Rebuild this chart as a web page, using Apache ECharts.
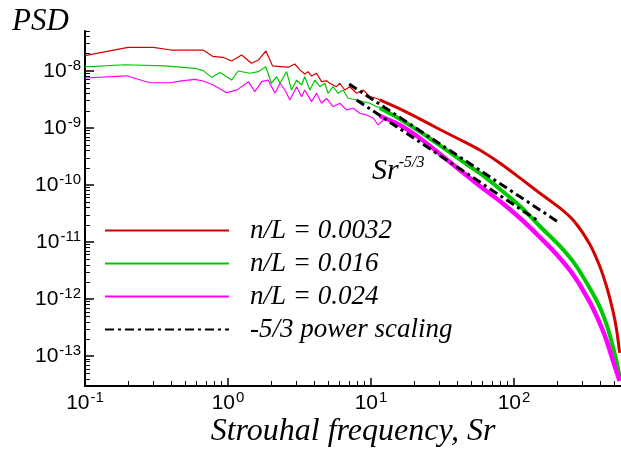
<!DOCTYPE html>
<html>
<head>
<meta charset="utf-8">
<script src="https://cdn.jsdelivr.net/npm/echarts@6/dist/echarts.min.js"></script>
<style>
html,body{margin:0;padding:0;background:#fff;}
#chart{width:621px;height:451px;}
</style>
</head>
<body>
<div id="chart"></div>
<script>
// ---- Data (Strouhal frequency Sr, PSD) ----
const seriesNames = ['n/L = 0.0032', 'n/L = 0.016', 'n/L = 0.024', '-5/3 power scaling'];

// n/L = 0.0032 (red) - low/mid frequency, thin trace
const redLowSr  = [0.1,0.2,0.3,0.4,0.5,0.6,0.67,0.78,0.92,1.06,1.245,1.46,1.63,1.84,2.05,2.43,2.64,2.93,3.18,3.44,3.63,3.84,4.16,4.51,4.89,5.15,5.74,6.05,6.56,7.11,7.92,8.81,9.81,10.9,12.2,13.2];
const redLowPsd = [1.85e-8,2.59e-8,2.59e-8,2.32e-8,2.32e-8,2.32e-8,2.32e-8,1.8e-8,1.73e-8,1.49e-8,1.9e-8,1.36e-8,1.55e-8,2.23e-8,1.22e-8,1.18e-8,1.16e-8,1.32e-8,1.04e-8,8.8e-9,9.7e-9,8.13e-9,9.08e-9,6.47e-9,6.7e-9,6.07e-9,5.28e-9,6.07e-9,4.62e-9,5.28e-9,4.05e-9,4.62e-9,3.53e-9,3.31e-9,2.89e-9,2.71e-9];

// n/L = 0.016 (green)
const greenLowSr  = [0.1,0.19,0.36,0.59,0.67,0.77,0.88,1.06,1.18,1.42,1.63,1.84,2.01,2.19,2.31,2.57,2.78,3.02,3.27,3.44,3.74,4.05,4.39,4.75,5.01,5.43,5.89,6.38,6.92,7.92,8.81,9.81,10.9,12.2];
const greenLowPsd = [1.18e-8,1.28e-8,1.22e-8,1.11e-8,1.01e-8,7.7e-9,9.4e-9,6.9e-9,9.95e-9,9.08e-9,9.7e-9,1.18e-8,6.07e-9,7.91e-9,6.07e-9,9.7e-9,4.62e-9,6.9e-9,5.66e-9,7.91e-9,4.62e-9,6.9e-9,5.28e-9,6.07e-9,4.05e-9,5.28e-9,4.05e-9,4.62e-9,3.31e-9,3.09e-9,2.89e-9,2.71e-9,2.36e-9,2.21e-9];

// n/L = 0.024 (magenta)
const magLowSr  = [0.1,0.195,0.284,0.392,0.472,0.587,0.671,0.79,0.977,1.15,1.39,1.54,1.72,1.91,2.13,2.31,2.5,2.71,3.02,3.27,3.44,3.84,4.16,4.51,4.89,5.43,6.05,6.74,7.5,8.35,9.31,10.4,11.2,12.2];
const magLowPsd = [7.5e-9,8.2e-9,6.2e-9,6.2e-9,6.7e-9,7.1e-9,6.65e-9,5.66e-9,4.15e-9,4.6e-9,6.47e-9,4.32e-9,6.47e-9,6.9e-9,4.05e-9,6.07e-9,4.62e-9,3.09e-9,5.28e-9,3.53e-9,4.62e-9,2.89e-9,4.05e-9,2.71e-9,3.31e-9,2.36e-9,2.71e-9,2.07e-9,2.21e-9,1.81e-9,1.69e-9,1.48e-9,1.13e-9,1.38e-9];

// high-frequency dense bands (centre of the band)
const bandSr       = [11.5,15.9,21.9,30.3,41.7,57.6,79.5,110,151,209,266,338,397,445,490,522,548];
const redHighPsd   = [3.09e-9,2.15e-9,1.44e-9,9.4e-10,6.28e-10,4.11e-10,2.43e-10,1.33e-10,7.25e-11,3.96e-11,2.25e-11,9.26e-12,3.81e-12,1.63e-12,6.46e-13,2.88e-13,1.14e-13];
const greenHighPsd = [2.24e-9,1.44e-9,8.67e-10,4.93e-10,2.8e-10,1.61e-10,8.53e-11,4.29e-11,1.91e-11,8.55e-12,4.13e-12,1.57e-12,7.38e-13,3.52e-13,1.51e-13,7.93e-14,4.33e-14];
const magHighPsd   = [1.62e-9,1.13e-9,6.67e-10,3.5e-10,1.83e-10,9.6e-11,5.25e-11,2.64e-11,1.23e-11,5.27e-12,2.45e-12,8.92e-13,3.82e-13,1.85e-13,8.6e-14,5.3e-14,3.68e-14];

// -5/3 power-law reference lines (end points)
const pow1Sr  = [7.03, 202];
const pow1Psd = [5.89e-9, 2.28e-11];
const pow2Sr  = [7.93, 144];
const pow2Psd = [3.09e-9, 2.44e-11];

// Axis ticks
const xMajorTicks = [0.1, 1, 10, 100];
const yMajorTicks = [1e-13, 1e-12, 1e-11, 1e-10, 1e-9, 1e-8];
const xMin = 0.1, xMax = 560;
const yMin = 3e-14, yMax = 5e-8;

function minorTicks(lo, hi, dec0, dec1) {
  const out = [];
  for (let e = dec0; e <= dec1; e++) {
    for (let m = 2; m <= 9; m++) {
      const v = parseFloat((m * Math.pow(10, e)).toPrecision(6));
      if (v >= lo * 0.999 && v <= hi * 1.001) out.push(v);
    }
  }
  return out;
}
const xMinorTicks = minorTicks(xMin, xMax, -1, 2);
const yMinorTicks = minorTicks(yMin, yMax, -14, -8);

const zip = (a, b) => a.map((v, i) => [v, b[i]]);

const RED = '#d40000', GREEN = '#00c800', MAG = '#ff00ff';

const expLabel = v => '{b|10}{s|' + Math.round(Math.log10(v)) + '}';
const richLabel = {
  b: { fontSize: 21, fontFamily: 'Liberation Sans', color: '#000', lineHeight: 26 },
  s: { fontSize: 15, fontFamily: 'Liberation Sans', color: '#000', verticalAlign: 'top', lineHeight: 15, padding: [0, 0, 0, 1] }
};

const chart = echarts.init(document.getElementById('chart'), null, { renderer: 'canvas' });

function lineSeries(name, data, color, width, extra) {
  return Object.assign({
    name: name, type: 'line', data: data, showSymbol: false, symbol: 'none',
    xAxisIndex: 0, yAxisIndex: 0,
    lineStyle: { color: color, width: width }, itemStyle: { color: color },
    animation: false, silent: true
  }, extra || {});
}

chart.setOption({
  animation: false,
  backgroundColor: '#fff',
  grid: { left: 85, right: 0, top: 31, bottom: 65, outerBoundsMode: 'none', containLabel: false },
  xAxis: [
    {
      type: 'log', logBase: 10, min: xMin, max: xMax,
      axisLine: { show: true, onZero: false, lineStyle: { color: '#000', width: 2 } },
      axisTick: { show: true, inside: true, length: 8, customValues: xMajorTicks, lineStyle: { color: '#000', width: 1.5 } },
      axisLabel: { show: true, customValues: xMajorTicks, margin: 4, formatter: expLabel, rich: richLabel },
      splitLine: { show: false },
      name: 'Strouhal frequency, Sr', nameLocation: 'middle', nameGap: 30, nameMoveOverlap: false,
      nameTextStyle: { fontFamily: 'Liberation Serif', fontStyle: 'italic', fontSize: 32, color: '#000' }
    },
    {
      type: 'log', logBase: 10, min: xMin, max: xMax, position: 'bottom',
      axisLine: { show: false },
      axisTick: { show: true, inside: true, length: 5, customValues: xMinorTicks, lineStyle: { color: '#000', width: 1 } },
      axisLabel: { show: false },
      splitLine: { show: false }
    }
  ],
  yAxis: [
    {
      type: 'log', logBase: 10, min: yMin, max: yMax,
      axisLine: { show: true, onZero: false, lineStyle: { color: '#000', width: 2 } },
      axisTick: { show: true, inside: true, length: 9, customValues: yMajorTicks, lineStyle: { color: '#000', width: 1.5 } },
      axisLabel: { show: true, customValues: yMajorTicks, margin: 4, formatter: expLabel, rich: richLabel },
      splitLine: { show: false }
    },
    {
      type: 'log', logBase: 10, min: yMin, max: yMax, position: 'left',
      axisLine: { show: false },
      axisTick: { show: true, inside: true, length: 5, customValues: yMinorTicks, lineStyle: { color: '#000', width: 1 } },
      axisLabel: { show: false },
      splitLine: { show: false }
    }
  ],
  legend: {
    show: true, orient: 'vertical', left: 104, top: 217, padding: 0,
    itemWidth: 124, itemHeight: 20, itemGap: 6,
    data: seriesNames,
    itemStyle: { opacity: 0 },
    textStyle: { fontFamily: 'Liberation Serif', fontStyle: 'italic', fontSize: 27, color: '#000', padding: [0, 0, 0, 16] },
    selectedMode: false
  },
  graphic: [
    { type: 'text', left: 12, top: 6, silent: true,
      style: { text: 'PSD', fontFamily: 'Liberation Serif', fontStyle: 'italic', fontSize: 31, fill: '#000' } },
    { type: 'text', left: 372, top: 155, silent: true,
      style: { text: '{m|Sr}{e|-5/3}', rich: {
        m: { fontFamily: 'Liberation Serif', fontStyle: 'italic', fontSize: 30, fill: '#000', lineHeight: 32 },
        e: { fontFamily: 'Liberation Serif', fontStyle: 'italic', fontSize: 16, fill: '#000', verticalAlign: 'top', lineHeight: 16 }
      } } }
  ],
  series: [
    lineSeries(seriesNames[0], zip(redLowSr, redLowPsd), RED, 1.2),
    lineSeries(seriesNames[1], zip(greenLowSr, greenLowPsd), GREEN, 1.2),
    lineSeries(seriesNames[2], zip(magLowSr, magLowPsd), MAG, 1.2),
    lineSeries(seriesNames[0], zip(bandSr, redHighPsd), RED, 3, { smooth: 0.25 }),
    lineSeries(seriesNames[1], zip(bandSr, greenHighPsd), GREEN, 4, { smooth: 0.25 }),
    lineSeries(seriesNames[2], zip(bandSr, magHighPsd), MAG, 4.5, { smooth: 0.25 }),
    lineSeries(seriesNames[3], zip(pow1Sr, pow1Psd), '#000', 3, { lineStyle: { color: '#000', width: 3, type: [9, 4, 3, 4] }, z: 5 }),
    lineSeries(seriesNames[3], zip(pow2Sr, pow2Psd), '#000', 3, { lineStyle: { color: '#000', width: 3, type: [9, 4, 3, 4] }, z: 5 })
  ]
});
</script>
</body>
</html>
